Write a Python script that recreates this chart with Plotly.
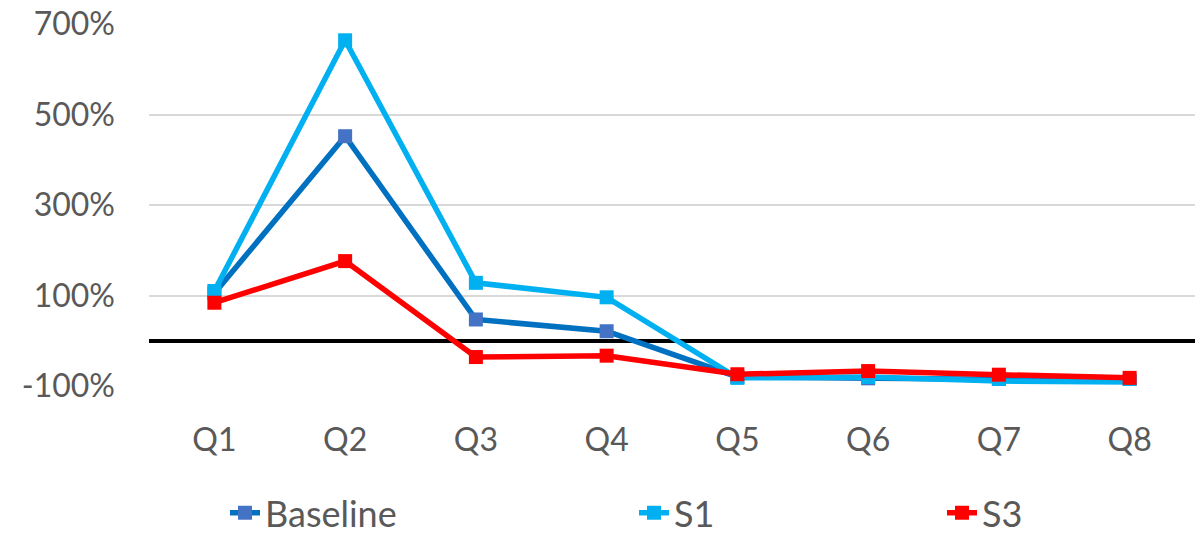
import plotly.graph_objects as go

categories = ["Q1", "Q2", "Q3", "Q4", "Q5", "Q6", "Q7", "Q8"]
baseline = [105, 452, 47, 21, -80, -83, -85, -88]
s1 = [110, 664, 128, 96, -82, -80, -89, -91]
s3 = [84, 176, -36, -33, -74, -67, -75, -82]
y_ticks = [-100, 100, 300, 500, 700]
y_tick_text = ["-100%", "100%", "300%", "500%", "700%"]

font_family = "Lato"
txt_color = "#595959"

fig = go.Figure()
fig.add_trace(go.Scatter(
    x=categories, y=baseline, name="Baseline", mode="lines+markers",
    line=dict(color="#0070C0", width=5.5),
    marker=dict(symbol="square", size=14, color="#4472C4"),
    legend="legend"))
fig.add_trace(go.Scatter(
    x=categories, y=s1, name="S1", mode="lines+markers",
    line=dict(color="#00B0F0", width=5.5),
    marker=dict(symbol="square", size=14, color="#00B0F0"),
    legend="legend2"))
fig.add_trace(go.Scatter(
    x=categories, y=s3, name="S3", mode="lines+markers",
    line=dict(color="#FF0000", width=5.5),
    marker=dict(symbol="square", size=14, color="#FF0000"),
    legend="legend3"))

leg_common = dict(orientation="h", yref="container", yanchor="middle", y=0.045,
                  xref="container", xanchor="left",
                  font=dict(family=font_family, size=36, color=txt_color),
                  bgcolor="rgba(0,0,0,0)")

fig.update_layout(
    width=1203, height=537,
    margin=dict(l=149, r=8, t=24, b=151, autoexpand=False),
    plot_bgcolor="white", paper_bgcolor="white",
    font=dict(family=font_family, color=txt_color, size=32),
    legend=dict(x=225 / 1203, **leg_common),
    legend2=dict(x=634 / 1203, **leg_common),
    legend3=dict(x=942 / 1203, **leg_common),
    showlegend=True,
)
fig.update_xaxes(
    type="category", range=[-0.5, 7.5], showgrid=False, showline=False,
    zeroline=False, ticks="", ticklabelstandoff=32,
    tickfont=dict(family=font_family, size=32, color=txt_color))
fig.update_yaxes(
    range=[-100, 700], tickvals=y_ticks, ticktext=y_tick_text,
    showgrid=True, gridcolor="#D9D9D9", gridwidth=1.5,
    zeroline=True, zerolinecolor="black", zerolinewidth=4,
    showline=False, ticks="", ticklabelstandoff=33,
    tickfont=dict(family=font_family, size=32, color=txt_color))

fig.write_html("out.html")
